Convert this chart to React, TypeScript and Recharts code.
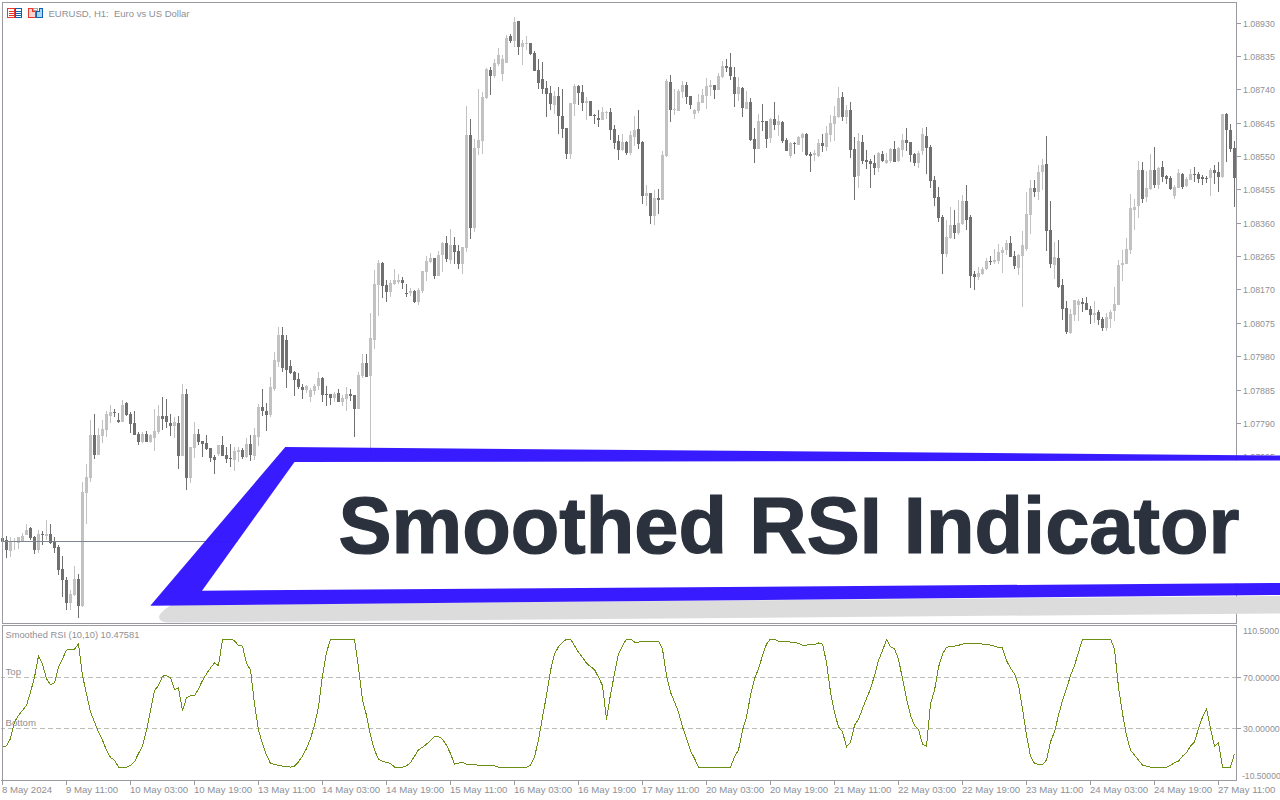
import React from "react";
import { ComposedChart, Bar, Line, XAxis, YAxis, ReferenceLine } from "recharts";

// Prices are stored as points above 1.00000 (8930 = 1.08930)
const highs = [
7545,7469,7465,7462,7467,7477,7503,7495,7470,7486,7483,7514,7503,7467,7443,7412,
7352,7315,7383,7361,7624,7674,7800,7817,7776,7800,7825,7842,7831,7819,7857,7851,
7822,7825,7765,7765,7768,7761,7831,7842,7865,7859,7817,7808,7811,7902,7888,7723,
7794,7774,7740,7757,7720,7700,7728,7754,7723,7731,7723,7723,7720,7748,7757,7777,
7845,7888,7848,7923,7993,8064,8064,8041,7970,7938,7933,7902,7899,7892,7901,7936,
7922,7896,7873,7879,7887,7870,7893,7887,7870,7936,7987,7987,8104,8226,8255,8249,
8198,8198,8229,8215,8207,8187,8175,8170,8175,8224,8266,8275,8261,8281,8306,8323,
8343,8321,8298,8292,8694,8657,8600,8742,8734,8802,8805,8828,8859,8839,8896,8899,
8948,8936,8882,8893,8873,8851,8828,8819,8765,8751,8737,8748,8742,8631,8702,8757,
8754,8754,8720,8708,8671,8683,8691,8680,8688,8640,8611,8614,8594,8623,8665,8683,
8594,8469,8446,8454,8457,8566,8771,8782,8742,8742,8765,8762,8722,8685,8728,8742,
8774,8768,8754,8788,8822,8828,8845,8805,8777,8748,8737,8717,8631,8671,8700,8651,
8660,8705,8668,8651,8603,8591,8591,8608,8617,8617,8563,8568,8600,8614,8637,8668,
8694,8748,8734,8697,8705,8606,8617,8611,8569,8543,8554,8563,8566,8560,8574,8594,
8577,8614,8631,8591,8560,8566,8631,8634,8583,8494,8463,8383,8369,8406,8397,8426,
8440,8469,8383,8224,8235,8235,8261,8266,8286,8301,8292,8312,8323,8281,8272,8338,
8449,8483,8483,8526,8543,8608,8423,8306,8312,8201,8138,8115,8141,8144,8147,8150,
8124,8138,8113,8093,8104,8113,8178,8255,8283,8318,8443,8429,8537,8534,8509,8557,
8577,8520,8537,8497,8494,8469,8514,8503,8492,8514,8520,8506,8497,8494,8517,8526,
8534,8671,8674,8643,8594];

const lows = [
7452,7407,7407,7429,7432,7450,7472,7457,7420,7420,7443,7458,7446,7420,7358,7295,
7258,7258,7298,7235,7267,7503,7623,7688,7700,7734,7751,7790,7808,7791,7794,7811,
7762,7757,7728,7734,7737,7734,7711,7760,7771,7777,7754,7748,7660,7697,7600,7620,
7691,7728,7694,7714,7680,7646,7697,7697,7677,7666,7654,7680,7688,7691,7683,7687,
7725,7811,7768,7808,7882,7950,7936,7890,7930,7868,7888,7859,7877,7853,7870,7884,
7850,7839,7842,7850,7850,7839,7825,7853,7751,7830,7919,7922,7685,8001,8095,8147,
8135,8150,8184,8187,8172,8150,8152,8132,8127,8161,8195,8246,8201,8209,8221,8249,
8244,8244,8229,8215,8278,8315,8335,8554,8557,8714,8725,8774,8808,8765,8816,8873,
8862,8839,8811,8854,8839,8794,8742,8728,8663,8682,8671,8614,8603,8543,8543,8665,
8697,8680,8654,8665,8643,8634,8654,8657,8597,8571,8540,8566,8554,8554,8580,8571,
8415,8409,8358,8355,8386,8426,8548,8648,8668,8680,8717,8700,8685,8657,8674,8702,
8685,8722,8714,8740,8774,8791,8768,8691,8708,8663,8685,8594,8531,8571,8623,8574,
8588,8625,8608,8588,8566,8546,8557,8583,8563,8551,8506,8537,8549,8563,8566,8591,
8594,8660,8651,8643,8546,8426,8460,8529,8514,8460,8497,8506,8534,8529,8531,8534,
8534,8549,8566,8534,8523,8517,8554,8500,8460,8409,8363,8215,8264,8315,8315,8326,
8355,8340,8175,8170,8198,8212,8226,8241,8244,8244,8218,8269,8264,8229,8212,8121,
8281,8329,8435,8426,8455,8281,8232,8201,8175,8084,8044,8044,8081,8081,8107,8113,
8073,8075,8070,8053,8053,8061,8081,8127,8195,8244,8272,8341,8375,8417,8420,8455,
8460,8457,8477,8472,8455,8429,8460,8457,8463,8483,8477,8474,8469,8474,8437,8472,
8449,8489,8534,8563,8406];

const opens = [
7462,7458,7427,7452,7450,7455,7472,7492,7467,7429,7475,7470,7475,7452,7439,7375,
7344,7278,7301,7346,7269,7591,7634,7757,7700,7754,7771,7811,7822,7799,7794,7848,
7817,7791,7760,7737,7760,7737,7748,7765,7811,7811,7791,7782,7791,7697,7874,7634,
7720,7760,7740,7734,7720,7694,7703,7728,7700,7691,7686,7708,7714,7694,7731,7697,
7751,7837,7825,7814,7887,7964,8041,8027,7953,7936,7916,7894,7885,7866,7882,7896,
7919,7873,7873,7862,7876,7850,7859,7873,7870,7830,7924,7961,7924,8027,8184,8246,
8184,8164,8187,8194,8198,8161,8161,8167,8135,8167,8221,8249,8261,8209,8269,8303,
8255,8298,8281,8244,8289,8611,8346,8574,8594,8717,8796,8779,8814,8785,8816,8893,
8879,8936,8862,8871,8873,8845,8796,8771,8745,8731,8697,8722,8665,8631,8557,8700,
8751,8734,8702,8708,8668,8660,8654,8674,8677,8628,8594,8568,8591,8560,8605,8628,
8591,8437,8446,8380,8432,8426,8551,8762,8682,8680,8734,8754,8722,8671,8680,8702,
8722,8748,8754,8740,8777,8808,8805,8777,8728,8745,8685,8705,8600,8571,8651,8651,
8603,8657,8640,8648,8597,8551,8588,8583,8603,8614,8557,8554,8551,8588,8577,8611,
8643,8663,8720,8663,8683,8572,8494,8591,8540,8537,8531,8517,8557,8531,8537,8571,
8537,8569,8597,8591,8557,8531,8566,8608,8577,8483,8435,8378,8272,8318,8355,8332,
8358,8423,8378,8215,8207,8215,8229,8252,8249,8252,8275,8284,8303,8266,8232,8266,
8286,8383,8460,8449,8506,8529,8340,8241,8261,8184,8118,8047,8098,8127,8135,8132,
8115,8098,8107,8087,8061,8087,8110,8127,8241,8244,8284,8398,8409,8511,8435,8457,
8511,8469,8520,8494,8489,8437,8460,8500,8466,8483,8500,8500,8492,8490,8489,8511,
8506,8492,8671,8626,8574];

const closes = [
7453,7429,7454,7455,7466,7469,7486,7463,7429,7475,7472,7476,7449,7435,7372,7344,
7279,7304,7346,7269,7594,7637,7757,7700,7757,7774,7817,7822,7820,7794,7842,7814,
7788,7757,7737,7760,7737,7757,7768,7811,7802,7794,7782,7794,7697,7874,7634,7723,
7760,7737,7731,7717,7691,7686,7728,7697,7688,7689,7711,7714,7693,7731,7700,7757,
7837,7825,7814,7894,7970,8041,7947,7942,7933,7914,7894,7885,7896,7884,7896,7919,
7870,7870,7862,7873,7850,7862,7873,7867,7830,7927,7961,7922,8033,8187,8246,8181,
8164,8189,8198,8198,8189,8159,8167,8135,8170,8224,8252,8261,8209,8269,8303,8258,
8298,8278,8244,8292,8611,8346,8574,8597,8720,8799,8779,8816,8839,8828,8888,8879,
8933,8862,8873,8873,8842,8794,8759,8742,8728,8700,8722,8665,8628,8557,8702,8751,
8731,8702,8708,8665,8665,8654,8677,8677,8625,8588,8568,8591,8560,8611,8625,8586,
8437,8446,8380,8432,8426,8554,8765,8682,8685,8737,8754,8720,8697,8682,8705,8725,
8751,8754,8740,8779,8808,8802,8779,8728,8748,8688,8705,8597,8571,8651,8648,8600,
8657,8640,8651,8594,8566,8588,8586,8605,8614,8554,8551,8560,8588,8580,8617,8645,
8665,8717,8663,8683,8569,8492,8594,8537,8534,8529,8517,8560,8537,8540,8571,8534,
8574,8597,8588,8554,8531,8560,8614,8574,8480,8432,8375,8272,8321,8355,8332,8360,
8423,8369,8209,8207,8218,8229,8252,8249,8255,8278,8284,8303,8264,8238,8269,8298,
8386,8460,8449,8506,8526,8338,8244,8264,8178,8115,8050,8101,8141,8138,8130,8113,
8098,8104,8084,8061,8093,8107,8130,8241,8246,8286,8403,8406,8511,8429,8460,8511,
8469,8517,8492,8486,8457,8463,8503,8463,8486,8500,8497,8486,8486,8487,8511,8503,
8492,8671,8626,8571,8489];

const rsi = [
15.8,16.6,22.3,35.2,40.4,44.3,48.2,58.5,70.2,86.8,80.5,68.9,64.2,65.8,78,84.4,
91.4,92.2,92.2,96.1,71.5,57.2,43,35.2,27.5,21,13.2,7.5,5.4,0,0,0,
1.3,4.1,10.6,16.3,28.7,44.3,59.8,63.7,71,71.5,69.7,60.6,61.9,43.8,54.1,55.7,
55.7,61.1,67.6,72.8,77.4,81.3,79.3,99.5,100,100,98.7,94.8,94.5,81.1,75.9,49.5,
28.7,18.4,9.3,2.8,2.1,1.3,0.8,0.8,0,0.8,4.1,8.5,14.5,22.3,32.6,46.9,
71.5,89.6,99.5,100,100,100,100,100,100,78,52.1,40.4,24.9,13.2,6.2,4.4,
3.6,2.8,0,0,0,1,3.4,8.5,13.5,15.5,17.9,20.5,23.8,23.8,21.8,17.1,
10.6,2.3,3.1,3.6,2.1,2.1,2.1,1.3,1.3,1.3,1.3,1,0,0,0,0,
0,0,0,0,1.3,8,21,39.1,55.9,75.4,88.3,94,97.4,100,100,94.8,
89.6,85.7,81.1,78.5,76.1,70.2,63.7,37,56.7,72.8,88.3,94.8,100,100,97.6,97.6,
98.4,98.4,98.4,98.4,98.4,92.2,71.5,58.5,50.8,43,31.3,22.3,12.7,6.7,0,0,
0,0,0,0,0,0,0,8,13.2,28.7,39.1,55.9,68.9,76.7,87,96.1,
100,100,98.4,98.4,98.2,97.6,97.6,96.6,95.3,95.3,95.8,95.8,96.9,96.1,81.8,58.5,
43,31.3,27.5,15.8,19.2,32.6,37.3,45.6,53.4,61.1,71.5,83.1,90.9,99.5,94,92.2,
84.4,68.9,53.4,40.4,32.6,29.3,17.9,16.1,49.5,59.8,78,88.3,93.5,94.3,94.5,95.1,
96.1,96.9,96.9,96.9,96.9,96.1,95.6,95.3,94.5,93.5,93,83.1,77.4,72.8,63.7,45.6,
24.9,8.5,2.8,2.1,2.1,5.4,19.7,27.5,40.4,52.1,61.1,71.5,79.3,89.6,100,100,
100,100,100,100,100,100,92.2,62.4,41.7,24.9,13.2,9.3,5.4,1.6,0.8,0,
0,0,0,0,1.3,3.6,4.7,8.5,11.4,16.3,19.7,30,39.1,45.6,30,16.3,
19.2,0,0,0,10.5];

const timeLabels = [
"8 May 2024","9 May 11:00","10 May 03:00","10 May 19:00","13 May 11:00","14 May 03:00","14 May 19:00",
"15 May 11:00","16 May 03:00","16 May 19:00","17 May 11:00","20 May 03:00","20 May 19:00","21 May 11:00",
"22 May 03:00","22 May 19:00","23 May 11:00","24 May 03:00","24 May 19:00","27 May 11:00"];
const barsPerTimeLabel = 16;

const priceTicks = [8930,8835,8740,8645,8550,8455,8360,8265,8170,8075,7980,7885,7790,7695,7600,7505,7410,7315];
const rsiTicks = [110.5,70,30,-10.5];
const rsiTickLabels = ["110.5000","70.00000","30.00000","-10.50000"];
const bidLevel = 7453;

const FONT = "'Liberation Sans', Arial, sans-serif";
const TEXT = "#8f8f95";
const FRAME = "#9a9aa0";
const DARK = "#707070";
const LIGHT = "#c2c2c2";

const rows = highs.map((h, i) => ({ idx: i, high: h, low: lows[i], open: opens[i], close: closes[i], rsi: rsi[i] }));
const timeTicks = timeLabels.map((_, k) => k * barsPerTimeLabel);

function Candle(props: any) {
  const { x, y, width, height, payload } = props;
  const h = Math.abs(height);
  const k = h / Math.max(1, payload.high - payload.low);
  const c = x + width / 2;
  const up = payload.close >= payload.open;
  const fill = up ? LIGHT : DARK;
  const top = Math.round(y);
  const bodyTop = Math.round(y + (payload.high - Math.max(payload.open, payload.close)) * k);
  const bodyBot = Math.round(y + (payload.high - Math.min(payload.open, payload.close)) * k);
  return (
    <g shapeRendering="crispEdges">
      <rect x={c - 0.5} y={top} width={1} height={Math.max(1, Math.round(h))} fill={fill} />
      <rect x={c - 1.5} y={bodyTop} width={3} height={Math.max(1, bodyBot - bodyTop)} fill={fill} />
    </g>
  );
}

function PriceTick(props: any) {
  const { x, y, payload } = props;
  return (
    <g>
      <line x1={x} x2={x + 4} y1={y} y2={y} stroke={FRAME} shapeRendering="crispEdges" />
      <text x={x + 6.5} y={y + 3.5} fontSize={8.8} fontFamily={FONT} fill={TEXT}>
        {(1 + payload.value / 100000).toFixed(5)}
      </text>
    </g>
  );
}

function RsiTick(props: any) {
  const { x, y, payload, index } = props;
  const i = rsiTicks.indexOf(payload.value);
  const shift = i === 0 ? 5 : i === rsiTicks.length - 1 ? -5 : 0;
  const isNegative = payload.value < 0;
  return (
    <g key={index}>
      {shift === 0 && <line x1={x} x2={x + 4} y1={y} y2={y} stroke={FRAME} shapeRendering="crispEdges" />}
      <text x={x + (isNegative ? 5.5 : 6.5)} y={y + 3.5 + shift} fontSize={isNegative ? 8.6 : 8.8} fontFamily={FONT} fill={TEXT}>
        {rsiTickLabels[i]}
      </text>
    </g>
  );
}

function TimeTick(props: any) {
  const { x, y, payload } = props;
  return (
    <g>
      <line x1={x} x2={x} y1={y} y2={y + 4} stroke={FRAME} shapeRendering="crispEdges" />
      <text x={x - 0.5} y={y + 12.5} fontSize={9.6} fontFamily={FONT} fill={TEXT}>
        {timeLabels[payload.value / barsPerTimeLabel]}
      </text>
    </g>
  );
}

function Overlay() {
  return (
    <svg width={1280} height={800} style={{ position: "absolute", left: 0, top: 0, pointerEvents: "none" }}>
      <g stroke={FRAME} shapeRendering="crispEdges">
        <line x1={2} x2={1237} y1={2.5} y2={2.5} />
        <line x1={2.5} x2={2.5} y1={2} y2={624} />
        <line x1={2} x2={1237} y1={623.5} y2={623.5} />
        <line x1={2} x2={1237} y1={625.5} y2={625.5} />
        <line x1={2.5} x2={2.5} y1={625} y2={781} />
      </g>
      {/* title icons */}
      <g shapeRendering="crispEdges" fill="none">
        <rect x={7.5} y={8.5} width={7} height={9} stroke="#e5382f" />
        <rect x={15.5} y={8.5} width={6} height={9} stroke="#0f62ad" />
        <path d="M9 11.5h5M9 13.5h5M9 15.5h5" stroke="#e5382f" />
        <path d="M16 11.5h5M16 13.5h5M16 15.5h5" stroke="#0f62ad" />
        <path d="M28.5 8.5h4v3h3v6h-7z" stroke="#e5382f" fill="#fcd4cf" />
        <path d="M42.5 8.5h-3v3h-3v6h6z" stroke="#0f62ad" fill="#a9d6f2" />
        <rect x={33.5} y={8.5} width={4} height={2} stroke="#a8a8a8" />
      </g>
      <text x={48.5} y={17} fontSize={9.5} fontFamily={FONT} fill={TEXT} style={{ whiteSpace: "pre" }}>EURUSD, H1:  Euro vs US Dollar</text>
      <text x={5.5} y={637.5} fontSize={9.3} fontFamily={FONT} fill={TEXT}>Smoothed RSI (10,10) 10.47581</text>
      <text x={5.5} y={675} fontSize={9.6} fontFamily={FONT} fill={TEXT}>Top</text>
      <text x={5.5} y={726} fontSize={9.6} fontFamily={FONT} fill={TEXT}>Bottom</text>
      {/* banner */}
      <path d="M171 605 L1280 596 L1280 613.5 L168 622.5 Q159 622 159 617 Q159 613 171 605 Z" fill="#dcdcdc" />
      <path d="M202 590.7 L294.5 462 L1280 460.5 L1280 583 Z" fill="#ffffff" />
      <path
        d="M150.3 605.7 L285.3 447 L1280 455.5 L1280 595 Z M202 590.7 L1280 583 L1280 460.5 L294.5 462 Z"
        fill="#3314ff"
        fillOpacity={0.97}
        fillRule="evenodd"
      />
      <text x={338.5} y={553} fontSize={79.5} fontWeight={700} fontFamily={FONT} fill="#2b323e" stroke="#2b323e" strokeWidth={1.2}>Smoothed RSI Indicator</text>
    </svg>
  );
}

export default function App() {
  return (
    <div style={{ position: "absolute", left: 0, top: 0, width: 1280, height: 800, background: "#fff", overflow: "hidden" }}>
      <div style={{ position: "absolute", left: 0, top: 0 }}>
        <ComposedChart
          width={1280}
          height={625}
          data={rows}
          margin={{ top: 2.5, right: 0, bottom: 1.5, left: 0.5 }}
          barCategoryGap={0}
          barGap={0}
        >
          <XAxis dataKey="idx" type="category" scale="band" hide />
          <YAxis
            orientation="right"
            width={43.5}
            type="number"
            domain={[7219.6, 8989.3]}
            ticks={priceTicks}
            interval={0}
            tickLine={false}
            tickSize={0}
            tickMargin={0}
            axisLine={{ stroke: FRAME, shapeRendering: "crispEdges" }}
            tick={<PriceTick />}
          />
          <ReferenceLine y={bidLevel} stroke="#7e858e" shapeRendering="crispEdges" />
          <Bar dataKey={(d: any) => [d.low, d.high]} shape={<Candle />} isAnimationActive={false} />
        </ComposedChart>
      </div>
      <div style={{ position: "absolute", left: 0, top: 625 }}>
        <ComposedChart
          width={1280}
          height={175}
          data={rows}
          margin={{ top: 0.6, right: 0, bottom: 0, left: 0.5 }}
        >
          <XAxis
            dataKey="idx"
            type="category"
            scale="band"
            height={19.5}
            ticks={timeTicks}
            interval={0}
            tickLine={false}
            tickSize={0}
            tickMargin={0}
            axisLine={{ stroke: FRAME, shapeRendering: "crispEdges" }}
            tick={<TimeTick />}
          />
          <YAxis
            orientation="right"
            width={43.5}
            type="number"
            domain={[-10.5, 110.5]}
            ticks={rsiTicks}
            interval={0}
            tickLine={false}
            tickSize={0}
            tickMargin={0}
            axisLine={{ stroke: FRAME, shapeRendering: "crispEdges" }}
            tick={<RsiTick />}
          />
          <ReferenceLine y={70} stroke="#bdbdb8" strokeDasharray="5 3" shapeRendering="crispEdges" />
          <ReferenceLine y={30} stroke="#bdbdb8" strokeDasharray="5 3" shapeRendering="crispEdges" />
          <Line
            dataKey="rsi"
            type="linear"
            stroke="#6b8e14"
            strokeWidth={1}
            dot={false}
            activeDot={false}
            isAnimationActive={false}
            shapeRendering="crispEdges"
          />
        </ComposedChart>
      </div>
      <Overlay />
    </div>
  );
}
